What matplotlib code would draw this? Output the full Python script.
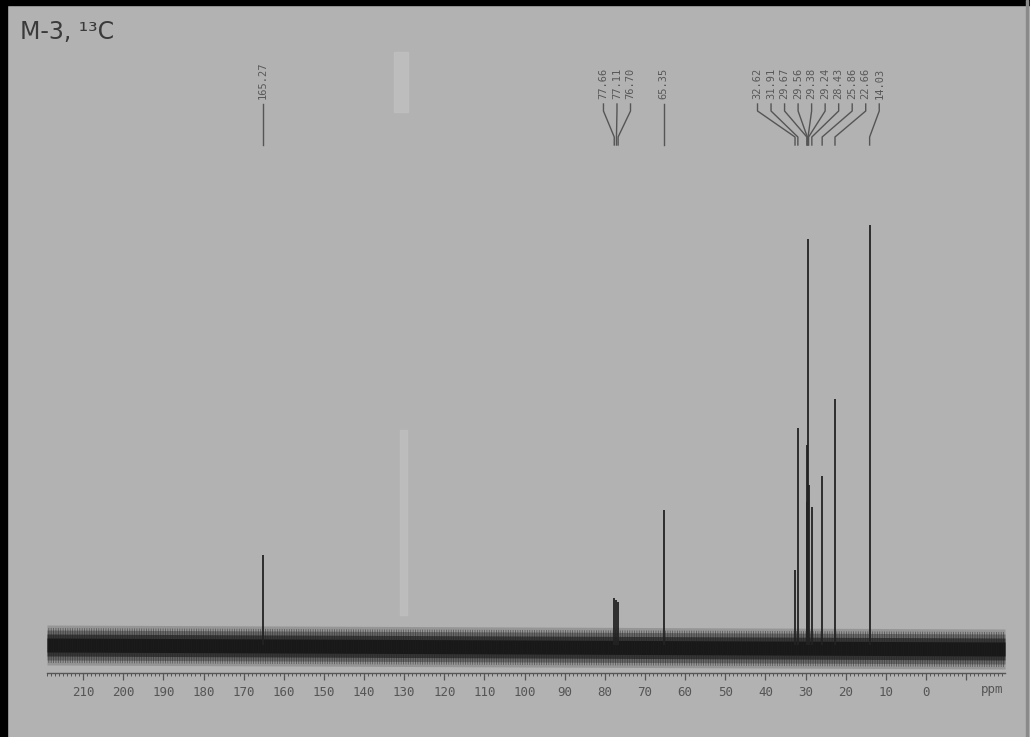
import matplotlib
matplotlib.use("Agg")
import matplotlib.pyplot as plt
from matplotlib.patches import Rectangle
from matplotlib.ticker import MultipleLocator
import matplotlib.transforms as mtransforms

# spectrum data (13C, ppm)
title = "M-3, ¹³C"
peak_ppm = [165.27, 77.66, 77.11, 76.70, 65.35, 32.62, 31.91, 29.67, 29.56,
            29.38, 29.24, 28.43, 25.86, 22.66, 14.03]
peak_height = [90, 47, 45, 43, 135, 75, 217, 200, 143, 406, 160, 138, 169, 246, 420]
label_groups = [[165.27], [77.66, 77.11, 76.70], [65.35],
                [32.62, 31.91, 29.67, 29.56, 29.38, 29.24, 28.43, 25.86, 22.66, 14.03]]
tick_values = list(range(210, -11, -10))

bg = "#b2b2b2"
W, H = 1030, 737
fig = plt.figure(figsize=(W / 100, H / 100), dpi=100, facecolor=bg)

# scan borders
fig.patches.append(Rectangle((0, 1 - 5 / H), 1, 5 / H, transform=fig.transFigure, color="black"))
fig.patches.append(Rectangle((0, 0), 7 / W, 1, transform=fig.transFigure, color="black"))
fig.patches.append(Rectangle((1026 / W, 0), 2 / W, 1, transform=fig.transFigure, color="#8a8a8a"))
# faint scanner streak
fig.patches.append(Rectangle((394 / W, 1 - 112 / H), 14 / W, 60 / H, transform=fig.transFigure,
                             color="#c0c0c0", alpha=0.8))
fig.patches.append(Rectangle((400 / W, 1 - 615 / H), 7 / W, 185 / H, transform=fig.transFigure,
                             color="#bfbfbf", alpha=0.8))

ax_top, ax_bot = 0, 673
ax = fig.add_axes([47 / W, (H - ax_bot) / H, (1005 - 47) / W, (ax_bot - ax_top) / H])
ax.set_facecolor("none")
ax.set_xlim(219, -19.7)
ax.set_ylim(-28, 645)

def frac(p):
    return (ax_bot - p) / (ax_bot - ax_top)

# baseline noise band, drawn as layered bands with soft edges
xs = [219, -19.7]
for half, alpha in [(20, 0.18), (15, 0.35), (11, 0.6), (7, 0.9)]:
    ax.fill_between(xs, [-half, -half - 4], [half, half - 4], color="#151515",
                    alpha=alpha, linewidth=0)
plt.rcParams["hatch.linewidth"] = 0.6
ax.fill_between(xs, [-18, -22], [17, 13], facecolor="none", edgecolor="#202020",
                hatch="|||||||", linewidth=0, alpha=0.5)

# peaks
ax.vlines(peak_ppm, 0, peak_height, color="#222222", lw=1.3)

# peak labels
tr = mtransforms.blended_transform_factory(ax.transData, ax.transAxes)
spacing = 3.37
centers = {0: 165.27, 1: 76.98, 2: 65.35, 3: 26.8}
for gi, grp in enumerate(label_groups):
    n = len(grp)
    for i, v in enumerate(grp):
        lx = centers[gi] + (n - 1) / 2 * spacing - i * spacing
        ax.text(lx, frac(99), f"{v:.2f}", rotation=90, ha="center", va="bottom",
                transform=tr, family="DejaVu Sans Mono", fontsize=7.5, color="#585858")
        ax.plot([lx, lx, v, v], [frac(104), frac(111), frac(137), frac(145)],
                transform=tr, color="#555555", lw=1.0, clip_on=False)

# axis
for s in ["left", "right", "top"]:
    ax.spines[s].set_visible(False)
ax.spines["bottom"].set_color("#555555")
ax.spines["bottom"].set_linewidth(1.0)
ax.set_yticks([])
ax.set_xticks(tick_values)
ax.set_xticklabels([str(t) if t >= 0 else "" for t in tick_values])
ax.xaxis.set_minor_locator(MultipleLocator(1))
ax.tick_params(axis="x", which="major", length=5, width=0.9, color="#555555",
               labelsize=9, labelcolor="#555555", pad=4)
ax.tick_params(axis="x", which="minor", length=2.5, width=0.7, color="#555555")
for lab in ax.get_xticklabels():
    lab.set_family("DejaVu Sans Mono")
ax.text(-16.4, frac(689), "ppm", transform=tr, ha="center", va="center",
        family="DejaVu Sans Mono", fontsize=9, color="#555555")

fig.text(20 / W, 1 - 32 / H, title, fontsize=17, color="#3a3a3a", va="center", ha="left")

fig.savefig("out.png", dpi=100, facecolor=bg)
